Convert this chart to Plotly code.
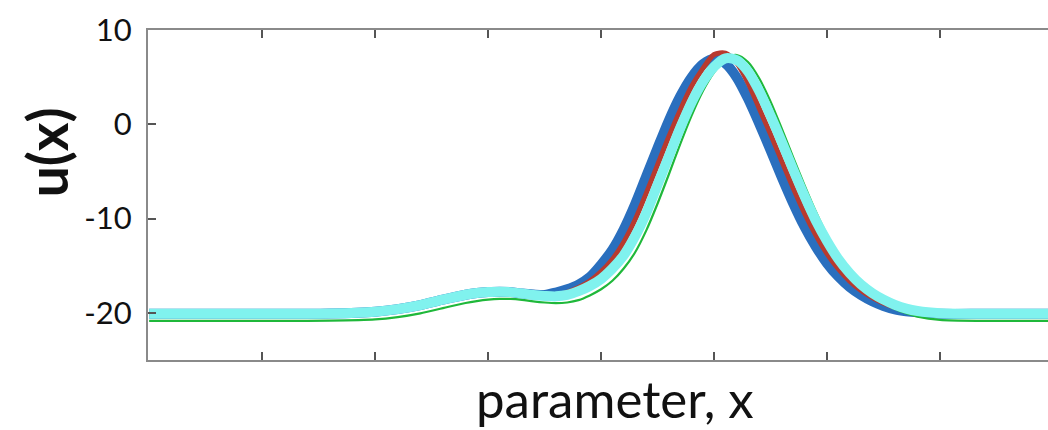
import plotly.graph_objects as go

# Shared x grid (parameter, x)
x_vals = [-4.0, -3.6, -3.2, -2.8, -2.4, -2.0, -1.8, -1.6, -1.4, -1.2,
          -1.1, -1.0, -0.9, -0.8, -0.7, -0.6, -0.5, -0.4, -0.3, -0.2, -0.1,
          0.0, 0.1, 0.2, 0.3, 0.4, 0.5, 0.6, 0.7, 0.8, 0.9,
          1.0, 1.1, 1.2, 1.3, 1.4, 1.5, 1.6, 1.7, 1.8, 1.9,
          2.0, 2.1, 2.2, 2.3, 2.4, 2.5, 2.6, 2.7, 2.8,
          3.0, 3.4, 3.96]

u_blue = [-20.1, -20.1, -20.1, -20.1, -20.07, -19.88, -19.6, -19.17, -18.6, -18.08,
          -17.9, -17.8, -17.75, -17.8, -17.95, -18.05, -18.1, -17.85, -17.5, -17.0, -16.2,
          -14.88, -13.3, -11.15, -8.5, -5.5, -2.5, 0.41, 2.96, 4.98, 6.37,
          6.94, 6.44, 4.97, 2.72, 0.06, -2.77, -5.64, -8.38, -10.86, -12.97,
          -14.75, -16.16, -17.27, -18.11, -18.77, -19.27, -19.63, -19.83, -19.95,
          -20.1, -20.1, -20.1]

u_red = [-20.1, -20.1, -20.1, -20.1, -20.07, -19.88, -19.6, -19.17, -18.6, -18.08,
         -17.9, -17.8, -17.75, -17.8, -17.95, -18.1, -18.22, -18.18, -17.82, -17.32, -16.63,
         -15.63, -14.32, -12.5, -10.15, -7.3, -4.3, -1.3, 1.49, 4.0, 5.9,
         7.4, 7.55, 6.5, 4.4, 1.68, -1.06, -3.93, -6.76, -9.42, -11.74,
         -13.73, -15.35, -16.64, -17.63, -18.39, -18.99, -19.43, -19.73, -19.9,
         -20.1, -20.1, -20.1]

u_green = [-20.85, -20.85, -20.85, -20.85, -20.83, -20.7, -20.45, -20.05, -19.5, -18.95,
           -18.75, -18.6, -18.52, -18.52, -18.62, -18.78, -18.9, -18.97, -18.9, -18.65, -18.15,
           -17.5, -16.6, -15.3, -13.6, -11.25, -8.4, -5.3, -2.1, 0.9, 3.5,
           5.5, 6.9, 7.35, 6.6, 4.85, 2.4, -0.5, -3.5, -6.45, -9.25,
           -11.75, -13.9, -15.6, -16.95, -18.05, -18.9, -19.6, -20.05, -20.4,
           -20.75, -20.85, -20.85]

u_cyan = [-20.1, -20.1, -20.1, -20.1, -20.07, -19.88, -19.6, -19.17, -18.6, -18.08,
          -17.9, -17.8, -17.75, -17.8, -17.95, -18.1, -18.2, -18.25, -18.1, -17.7, -17.15,
          -16.4, -15.3, -13.9, -11.9, -9.4, -6.4, -3.4, -0.4, 2.3, 4.5,
          6.1, 7.0, 6.8, 5.6, 3.5, 0.9, -1.9, -4.8, -7.6, -10.2,
          -12.4, -14.3, -15.8, -17.0, -17.9, -18.6, -19.15, -19.55, -19.8,
          -20.03, -20.1, -20.1]

y_ticks = [-20, -10, 0, 10]
y_tick_labels = ["-20", "-10", "0", "10"]
x_ticks = [-3, -2, -1, 0, 1, 2, 3]

fig = go.Figure()
fig.add_trace(go.Scatter(x=x_vals, y=u_blue, mode="lines",
                         line=dict(color="#2a6fbe", width=10, shape="spline", smoothing=0.8)))
fig.add_trace(go.Scatter(x=x_vals, y=u_red, mode="lines",
                         line=dict(color="#b83a2e", width=5, shape="spline", smoothing=0.8)))
fig.add_trace(go.Scatter(x=x_vals, y=u_green, mode="lines",
                         line=dict(color="#1fb83a", width=2.2, shape="spline", smoothing=0.8)))
fig.add_trace(go.Scatter(x=x_vals, y=u_cyan, mode="lines",
                         line=dict(color="#80f2ee", width=10, shape="spline", smoothing=0.8)))

fig.update_layout(
    width=1048, height=430,
    margin=dict(l=148, r=0, t=30, b=70),
    paper_bgcolor="white", plot_bgcolor="white",
    showlegend=False,
    font=dict(family="Lato", color="#111111"),
    xaxis=dict(range=[-4.01, 3.955], tickvals=x_ticks, showticklabels=False,
               ticks="inside", ticklen=8, tickwidth=1.5, tickcolor="#555555",
               showline=True, linecolor="#8a8a8a", linewidth=2, mirror="ticks",
               showgrid=False, zeroline=False),
    yaxis=dict(range=[-25, 10], tickvals=y_ticks, ticktext=y_tick_labels,
               ticks="inside", ticklen=8, tickwidth=1.5, tickcolor="#555555",
               showline=True, linecolor="#8a8a8a", linewidth=2, mirror=False,
               showgrid=False, zeroline=False, ticklabelstandoff=8,
               tickfont=dict(family="Lato", size=31, color="#111111")),
    annotations=[
        dict(text="parameter, x", xref="paper", yref="paper", x=0.519, y=-0.117,
             xanchor="center", yanchor="middle", showarrow=False,
             font=dict(family="Lato", size=51, color="#111111")),
        dict(text="<b>u(x)</b>", xref="paper", yref="paper", x=-0.112, y=0.63,
             xanchor="center", yanchor="middle", textangle=-90, showarrow=False,
             font=dict(family="Lato", size=55, color="#111111")),
    ],
)

fig.write_html("out.html")
